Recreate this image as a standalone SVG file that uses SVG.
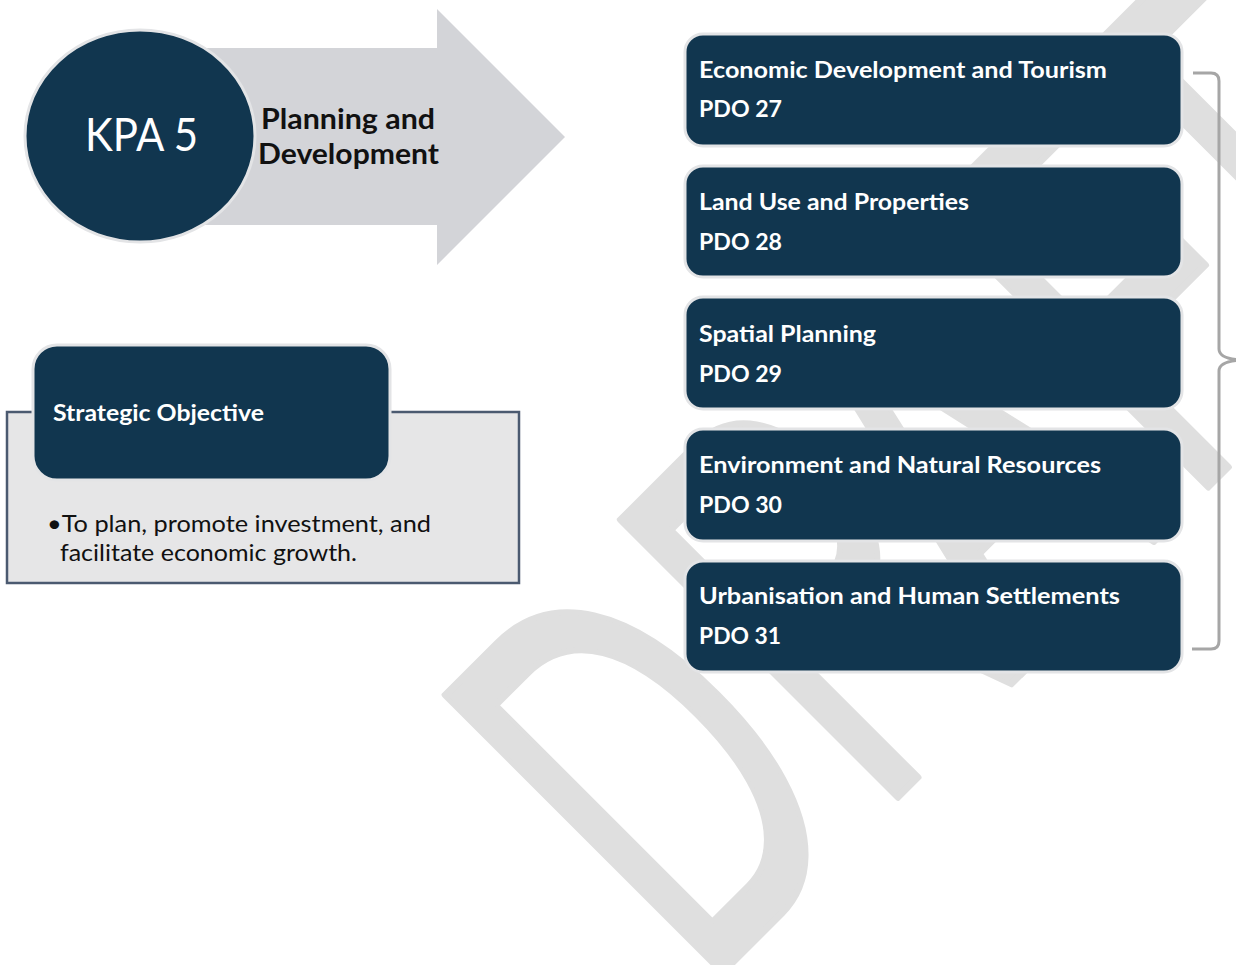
<svg xmlns="http://www.w3.org/2000/svg" width="1236" height="965" viewBox="0 0 1236 965">
<style>
.wm{font-family:"Liberation Sans",Arial,sans-serif;font-size:570px;fill:#dfdfdf;stroke:#dfdfdf;stroke-width:7;stroke-linejoin:round}
.box{fill:#11364f;stroke:#e3e4e6;stroke-width:3}
.t{font-family:Lato,"Open Sans",sans-serif;font-weight:bold;font-size:22px;fill:#ffffff}
.dark{font-family:Lato,"Open Sans",sans-serif;fill:#111111}
.brace{fill:none;stroke:#a6a6a6;stroke-width:3}
</style>
<rect width="1236" height="965" fill="#ffffff"/>
<g id="watermark">
<text class="wm" transform="translate(847.5,847.5) rotate(-45) scale(0.579,1)" x="-354 74 421 832 1145" y="0">DRAFT</text>
</g>
<g id="kpa-arrow">
<polygon points="150,48 437,48 437,9 565,137 437,265 437,225 150,225" fill="#d3d4d8"/>
<text class="dark" x="261" y="129" font-size="29" font-weight="bold" textLength="174" lengthAdjust="spacingAndGlyphs">Planning and</text>
<text class="dark" x="258" y="164" font-size="29" font-weight="bold" textLength="181" lengthAdjust="spacingAndGlyphs">Development</text>
</g>
<g id="kpa-circle">
<ellipse cx="140" cy="136" rx="115" ry="106" fill="#11364f" stroke="#e3e4e6" stroke-width="3"/>
<text x="85" y="151" font-family="Lato,'Open Sans',sans-serif" font-size="46" fill="#ffffff" textLength="113" lengthAdjust="spacingAndGlyphs">KPA 5</text>
</g>
<g id="strategic-objective">
<rect x="7" y="412" width="512" height="171" fill="#e6e6e7" stroke="#4b5a70" stroke-width="2.5"/>
<rect x="33" y="345" width="357" height="135" rx="24" class="box"/>
<text class="t" x="53" y="421" font-size="23" textLength="211" lengthAdjust="spacingAndGlyphs">Strategic Objective</text>
<text class="dark" x="47" y="532" font-size="23" textLength="384" lengthAdjust="spacingAndGlyphs">•To plan, promote investment, and</text>
<text class="dark" x="60" y="561" font-size="23" textLength="297" lengthAdjust="spacingAndGlyphs">facilitate economic growth.</text>
</g>
<g id="pdo-27">
<rect x="685" y="34" width="497" height="112" rx="18" class="box"/>
<text class="t" x="699" y="78" textLength="408" lengthAdjust="spacingAndGlyphs">Economic Development and Tourism</text>
<text class="t" x="699" y="117" textLength="83" lengthAdjust="spacingAndGlyphs">PDO 27</text>
</g>
<g id="pdo-28">
<rect x="685" y="166" width="497" height="111" rx="18" class="box"/>
<text class="t" x="699" y="210" textLength="270" lengthAdjust="spacingAndGlyphs">Land Use and Properties</text>
<text class="t" x="699" y="250" textLength="83" lengthAdjust="spacingAndGlyphs">PDO 28</text>
</g>
<g id="pdo-29">
<rect x="685" y="297" width="497" height="112" rx="18" class="box"/>
<text class="t" x="699" y="342" textLength="177" lengthAdjust="spacingAndGlyphs">Spatial Planning</text>
<text class="t" x="699" y="382" textLength="83" lengthAdjust="spacingAndGlyphs">PDO 29</text>
</g>
<g id="pdo-30">
<rect x="685" y="429" width="497" height="112" rx="18" class="box"/>
<text class="t" x="699" y="473" textLength="402" lengthAdjust="spacingAndGlyphs">Environment and Natural Resources</text>
<text class="t" x="699" y="513" textLength="83" lengthAdjust="spacingAndGlyphs">PDO 30</text>
</g>
<g id="pdo-31">
<rect x="685" y="561" width="497" height="111" rx="18" class="box"/>
<text class="t" x="699" y="604" textLength="421" lengthAdjust="spacingAndGlyphs">Urbanisation and Human Settlements</text>
<text class="t" x="699" y="644" textLength="82" lengthAdjust="spacingAndGlyphs">PDO 31</text>
</g>
<g id="connectors">
<path class="brace" d="M1193,73 H1211 Q1219,73 1219,81 V349 Q1219,359 1242,360 Q1219,361 1219,371 V641 Q1219,649 1211,649 H1192"/>
</g>
</svg>
